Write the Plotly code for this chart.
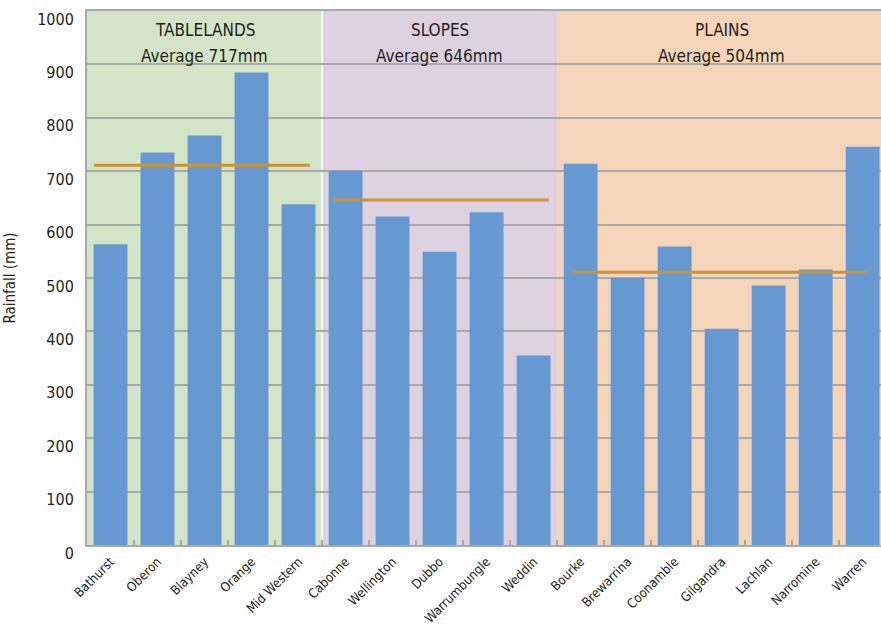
import plotly.graph_objects as go

# ---- data ----
districts = ["Bathurst", "Oberon", "Blayney", "Orange", "Mid Western",
             "Cabonne", "Wellington", "Dubbo", "Warrumbungle", "Weddin",
             "Bourke", "Brewarrina", "Coonamble", "Gilgandra", "Lachlan", "Narromine", "Warren"]
rainfall = [563, 735, 767, 885, 638,
            701, 615, 549, 623, 355,
            714, 500, 559, 405, 486, 516, 746]
regions = ["TABLELANDS", "SLOPES", "PLAINS"]
region_sizes = [5, 5, 7]
region_avg_label = [717, 646, 504]
region_avg_line = [711, 646, 511]
y_ticks = [0, 100, 200, 300, 400, 500, 600, 700, 800, 900, 1000]

# ---- style ----
FONT = "Liberation Sans Narrow, DejaVu Sans Condensed, Arial Narrow, sans-serif"
TXT = "#231F20"
region_colors = ["#D3E5C6", "#DED1E0", "#F5D5BA"]
line_pads = [(-0.35, 0.24), (-0.27, 0.32), (-0.19, 0.10)]
BAR = "#6699D2"
AVG = "#CC9330"
GRID = "#A9A9A9"

fig = go.Figure()
fig.add_trace(go.Bar(x=districts, y=rainfall, marker=dict(color=BAR, line=dict(width=0)),
                     showlegend=False))

shapes = []
annotations = []
start = 0
for i, (name, n) in enumerate(zip(regions, region_sizes)):
    x0 = start - 0.5
    x1 = start + n - 0.5
    shapes.append(dict(type="rect", xref="x", yref="paper", x0=x0, x1=x1, y0=0, y1=1,
                       fillcolor=region_colors[i], line=dict(width=0), layer="below"))
    p0, p1 = line_pads[i]
    shapes.append(dict(type="line", xref="x", yref="y", x0=start + p0, x1=start + n - 1 + p1,
                       y0=region_avg_line[i], y1=region_avg_line[i],
                       line=dict(color=AVG, width=3), layer="above"))
    cx = start + (n - 1) / 2
    annotations.append(dict(x=cx, y=1000, xref="x", yref="y", yshift=-19, yanchor="middle",
                            text=name, showarrow=False,
                            font=dict(family=FONT, size=17, color=TXT)))
    annotations.append(dict(x=cx, y=1000, xref="x", yref="y", yshift=-45, yanchor="middle",
                            text=f"Average {region_avg_label[i]}mm", showarrow=False,
                            font=dict(family=FONT, size=17, color=TXT)))
    start += n

# white divider between tablelands and slopes
shapes.append(dict(type="line", xref="x", yref="paper", x0=region_sizes[0] - 0.5,
                   x1=region_sizes[0] - 0.5, y0=0, y1=1,
                   line=dict(color="white", width=1.5), layer="below"))

fig.update_layout(
    width=881, height=625,
    margin=dict(l=87, r=0, t=11, b=80, autoexpand=False),
    paper_bgcolor="white", plot_bgcolor="white",
    bargap=0.28,
    shapes=shapes, annotations=annotations,
    font=dict(family=FONT, color=TXT),
    xaxis=dict(type="category", range=[-0.5, 16.39], tickangle=-45, automargin=False,
               showgrid=False, showline=True, linecolor=GRID, linewidth=2, mirror=True,
               ticks="inside", tickson="boundaries", ticklen=5, tickcolor=GRID, tickwidth=1.5,
               ticklabelstandoff=2,
               tickfont=dict(family=FONT, size=13, color=TXT)),
    yaxis=dict(range=[0, 1000], tickvals=y_ticks, showgrid=True, gridcolor=GRID, gridwidth=1.5,
               showline=True, linecolor=GRID, linewidth=2, ticks="", zeroline=False,
               automargin=False, ticklabeloverflow="allow",
               ticklabelshift=8, ticklabelstandoff=8,
               tickfont=dict(family=FONT, size=16, color=TXT),
               title=dict(text="Rainfall (mm)", standoff=18,
                          font=dict(family=FONT, size=15, color=TXT))),
)

fig.write_html("out.html")
